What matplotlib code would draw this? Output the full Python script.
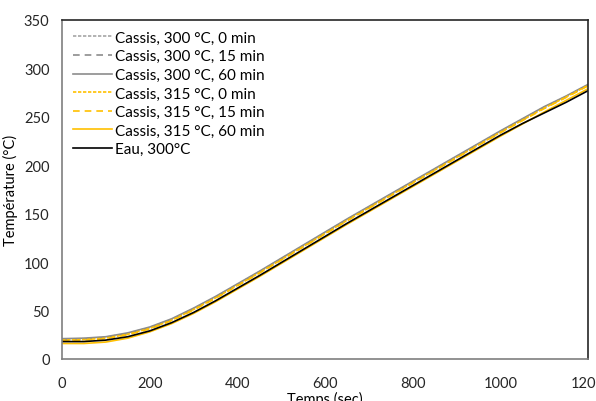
import numpy as np
import matplotlib
matplotlib.use("Agg")
import matplotlib.pyplot as plt

# Temps (sec)
temps = [0, 50, 100, 150, 200, 250, 300, 350, 400, 450, 500, 550, 600,
         650, 700, 750, 800, 850, 900, 950, 1000, 1050, 1100, 1150, 1200]

# Temperature curves (°C)
cassis_300_0 = [20.5, 21, 22.5, 26.5, 32.5, 41, 52, 64, 77, 90, 103.5, 117, 130.5,
                144, 157, 170, 183, 196, 209, 222, 235, 247.5, 260, 271, 283]
cassis_300_15 = [20, 20.5, 22, 26, 32, 40.5, 51.5, 63.5, 76.5, 89.5, 103, 116.5, 130,
                 143.5, 156.5, 169.5, 182.5, 195.5, 208.5, 221.5, 234.5, 247, 259.5, 270.5, 282.5]
cassis_300_60 = [21, 21.5, 23, 27, 33, 41.5, 52.5, 64.5, 77.5, 90.5, 104, 117.5, 131,
                 144.5, 157.5, 170.5, 183.5, 196.5, 209.5, 222.5, 235.5, 248, 260.5, 271.5, 283.5]
cassis_315_0 = [19.5, 20, 21.5, 25.5, 31.5, 40, 51, 63, 76, 89, 102.5, 116, 129.5,
                143, 156, 169, 182, 195, 208, 221, 234, 246.5, 259, 270.5, 282.5]
cassis_315_15 = [19, 19.5, 21, 25, 31, 39.5, 50.5, 62.5, 75.5, 88.5, 102, 115.5, 129,
                 142.5, 155.5, 168.5, 181.5, 194.5, 207.5, 220.5, 233.5, 246, 258.5, 270, 282]
cassis_315_60 = [16, 16, 17.5, 21.5, 28, 36.5, 47, 59, 72, 85, 98.5, 112, 125.5,
                 139, 152, 165, 178, 191, 204, 217, 230, 242.5, 255, 267, 279]
eau_300 = [18, 18, 19.5, 23, 29, 37.5, 48, 60, 73, 86, 99.5, 113, 126.5,
           140, 153, 166, 179, 192, 205, 218, 231, 243, 254, 265, 277]

labels = ["Cassis, 300 °C, 0 min", "Cassis, 300 °C, 15 min", "Cassis, 300 °C, 60 min",
          "Cassis, 315 °C, 0 min", "Cassis, 315 °C, 15 min", "Cassis, 315 °C, 60 min",
          "Eau, 300°C"]

plt.rcParams['font.family'] = ['Lato', 'DejaVu Sans']

fig = plt.figure(figsize=(5.96, 4.02), dpi=100)
ax = fig.add_axes([62 / 596, 1 - 360 / 402, (588 - 62) / 596, (360 - 21) / 402])

series = [cassis_300_0, cassis_300_15, cassis_300_60,
          cassis_315_0, cassis_315_15, cassis_315_60, eau_300]
colors = ['#a6a6a6', '#8c8c8c', '#8c8c8c', '#ffc000', '#ffc000', '#ffc000', '#000000']
styles = [(0, (2, 1)), (0, (4, 3)), '-', (0, (2, 1)), (0, (4, 3)), '-', '-']

for y, c, ls, lab in zip(series, colors, styles, labels):
    ax.plot(temps, y, color=c, linestyle=ls, linewidth=1.2, label=lab)

ax.set_xlim(0, 1200)
ax.set_ylim(0, 350)
ax.set_xticks(range(0, 1201, 200))
ax.set_yticks(range(0, 351, 50))
ax.tick_params(length=0, labelsize=10.5, colors='#262626')
ax.tick_params(axis='x', pad=12)
ax.tick_params(axis='y', pad=9)

for side in ['left', 'bottom']:
    ax.spines[side].set_color('#7f7f7f')
for side in ['top', 'right']:
    ax.spines[side].set_color('#262626')
for s in ax.spines.values():
    s.set_linewidth(1.2)

ax.set_xlabel('Temps (sec)', fontsize=10.5, labelpad=1)
ax.set_ylabel('Température (°C)', fontsize=10.5, labelpad=4)

ax.legend(loc='upper left', frameon=False, fontsize=11, handlelength=2.6,
          handletextpad=0.15, labelspacing=0.3, borderaxespad=0.3,
          bbox_to_anchor=(0.0, 1.0))

fig.savefig('out.png', dpi=100)
